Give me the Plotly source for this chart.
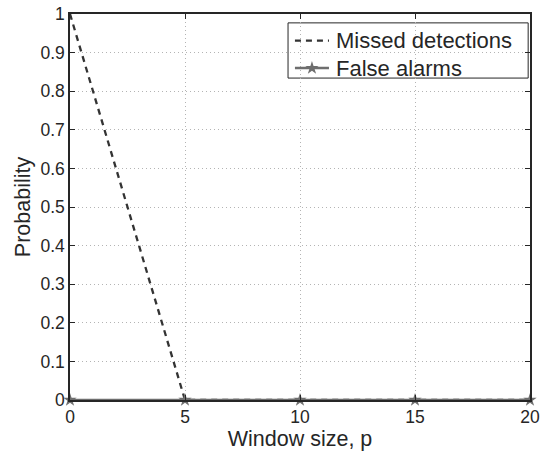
import plotly.graph_objects as go

window_sizes = [0, 5, 10, 15, 20]
missed_detections = [1.0, 0.0, 0.0, 0.0, 0.0]
false_alarms = [0.0, 0.0, 0.0, 0.0, 0.0]

x_ticks = [0, 5, 10, 15, 20]
y_ticks = [0, 0.1, 0.2, 0.3, 0.4, 0.5, 0.6, 0.7, 0.8, 0.9, 1]
y_labels = ["0", "0.1", "0.2", "0.3", "0.4", "0.5", "0.6", "0.7", "0.8", "0.9", "1"]

series_names = ["Missed detections", "False alarms"]

ink = "#262626"
dash_color = "#333333"
fa_color = "#6e6e6e"
dash_pattern = "6px,5px"

fig = go.Figure()
fig.add_trace(go.Scatter(
    x=window_sizes, y=missed_detections, mode="lines",
    name=series_names[0], showlegend=False,
    line=dict(color=dash_color, width=2.3, dash=dash_pattern),
))
fig.add_trace(go.Scatter(
    x=window_sizes, y=false_alarms, mode="lines+markers",
    name=series_names[1], showlegend=False, cliponaxis=False,
    line=dict(color=fa_color, width=2.5),
    marker=dict(symbol="star", size=10, color=fa_color),
))

# Boxed legend in the upper right, laid out in plot-area fractions
leg_box = dict(x0=0.474, x1=0.996, y0=0.834, y1=0.977)
leg_rows = [0.931, 0.860]
sample_x = [0.489, 0.563]
text_x = 0.574

fig.add_shape(type="rect", xref="paper", yref="paper", layer="between",
              line=dict(color=ink, width=1), fillcolor="white", **leg_box)
fig.add_shape(type="line", xref="paper", yref="paper", layer="above",
              x0=sample_x[0], x1=sample_x[1], y0=leg_rows[0], y1=leg_rows[0],
              line=dict(color=dash_color, width=2.3, dash=dash_pattern))
fig.add_shape(type="line", xref="paper", yref="paper", layer="above",
              x0=sample_x[0], x1=sample_x[1], y0=leg_rows[1], y1=leg_rows[1],
              line=dict(color=fa_color, width=2.5))
fig.add_trace(go.Scatter(
    x=[(sample_x[0] + sample_x[1]) / 2], y=[leg_rows[1]],
    xaxis="x2", yaxis="y2", mode="markers", showlegend=False, hoverinfo="skip",
    marker=dict(symbol="star", size=10, color=fa_color),
))
for name, row in zip(series_names, leg_rows):
    fig.add_annotation(text=name, xref="paper", yref="paper", x=text_x, y=row,
                       xanchor="left", yanchor="middle", showarrow=False,
                       font=dict(size=22, color=ink))

font_family = "Liberation Sans, Arial, sans-serif"
grid_style = dict(showgrid=True, gridcolor="#b4b4b4", griddash="1px,3px", gridwidth=1)
axis_style = dict(
    ticks="inside", ticklen=5, tickcolor=ink, tickwidth=1,
    showline=True, linecolor=ink, linewidth=1.5, mirror="ticks",
    zeroline=False, automargin=False, tickfont=dict(size=17.5),
)
fig.update_layout(
    width=544, height=451,
    margin=dict(l=70, r=14, t=14, b=51),
    paper_bgcolor="white", plot_bgcolor="white",
    font=dict(family=font_family, size=18, color=ink),
    showlegend=False,
    xaxis=dict(
        range=[0, 20], tickvals=x_ticks, ticktext=[str(v) for v in x_ticks],
        title=dict(text="Window size, p", font=dict(size=21.5), standoff=0),
        **grid_style, **axis_style,
    ),
    yaxis=dict(
        range=[0, 1], tickvals=y_ticks, ticktext=y_labels,
        title=dict(text="Probability", font=dict(size=21.5), standoff=4),
        **grid_style, **axis_style,
    ),
    xaxis2=dict(overlaying="x", range=[0, 1], visible=False, fixedrange=True),
    yaxis2=dict(overlaying="y", range=[0, 1], visible=False, fixedrange=True),
)

fig.write_html("out.html")
